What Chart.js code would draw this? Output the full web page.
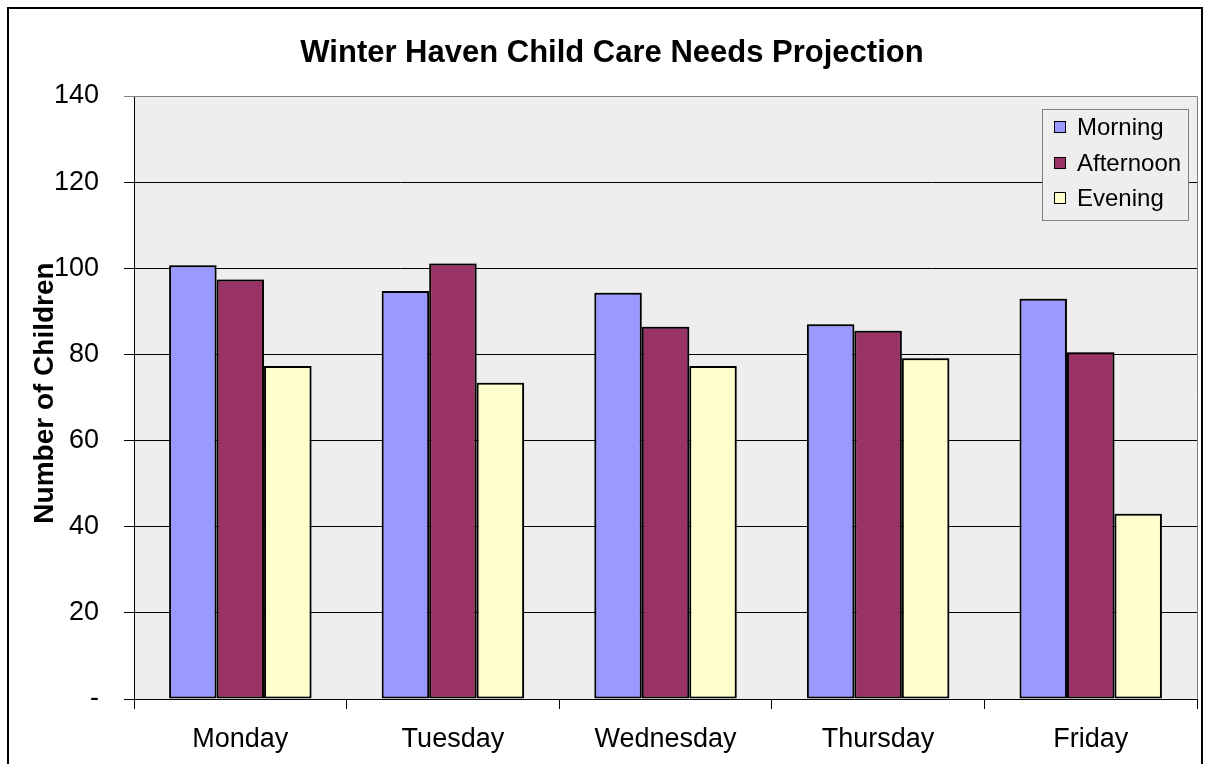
<!DOCTYPE html>
<html>
<head>
<meta charset="utf-8">
<script src="https://cdn.jsdelivr.net/npm/chart.js@4/dist/chart.umd.min.js"></script>
<style>
html,body{margin:0;padding:0;background:#fff;}
#wrap{width:1211px;height:764px;position:relative;}
</style>
</head>
<body>
<div id="wrap"><canvas id="c" width="1211" height="764"></canvas></div>
<script>
const chartTitle = 'Winter Haven Child Care Needs Projection';
const yAxisTitle = 'Number of Children';
const categories = ['Monday', 'Tuesday', 'Wednesday', 'Thursday', 'Friday'];
const seriesNames = ['Morning', 'Afternoon', 'Evening'];
const morning = [100.7, 94.7, 94.3, 87.0, 92.9];
const afternoon = [97.4, 101.1, 86.4, 85.5, 80.5];
const evening = [77.3, 73.4, 77.3, 79.1, 43.0];
const seriesColors = ['#9999FF', '#993366', '#FFFFCC'];
const yTicks = [0, 20, 40, 60, 80, 100, 120, 140];

const FONT = '"Liberation Sans", Arial, Helvetica, sans-serif';

const decor = {
  id: 'decor',
  beforeDraw(chart) {
    const {ctx, chartArea: a} = chart;
    ctx.save();
    ctx.fillStyle = '#fff';
    ctx.fillRect(0, 0, chart.width, chart.height);
    ctx.fillStyle = '#EEEEEE';
    ctx.fillRect(a.left, a.top, a.right - a.left, a.bottom - a.top);
    ctx.restore();
  },
  beforeDatasetsDraw(chart) {
    const {ctx} = chart;
    ctx.save();
    ctx.shadowColor = 'rgba(0,0,0,0.3)';
    ctx.shadowOffsetX = 1;
    ctx.shadowOffsetY = -1;
    ctx.shadowBlur = 0;
  },
  afterDatasetsDraw(chart) {
    const {ctx, chartArea: a} = chart;
    ctx.restore();
    ctx.save();
    ctx.strokeStyle = '#808080';
    ctx.lineWidth = 1;
    ctx.beginPath();
    ctx.moveTo(a.left, a.top + 0.5);
    ctx.lineTo(a.right + 0.5, a.top + 0.5);
    ctx.lineTo(a.right + 0.5, a.bottom);
    ctx.stroke();
    ctx.restore();
  },
  afterDraw(chart) {
    const {ctx} = chart;
    ctx.save();
    // outer frame
    ctx.strokeStyle = '#000';
    ctx.lineWidth = 2;
    ctx.strokeRect(8, 8, 1194, 800);
    // title
    ctx.fillStyle = '#000';
    ctx.font = 'bold 31px ' + FONT;
    ctx.textAlign = 'center';
    ctx.textBaseline = 'middle';
    ctx.fillText(chartTitle, 612, 53);
    // y axis title
    ctx.save();
    ctx.translate(45, 393);
    ctx.rotate(-Math.PI / 2);
    ctx.font = 'bold 28px ' + FONT;
    ctx.textAlign = 'center';
    ctx.textBaseline = 'middle';
    ctx.fillText(yAxisTitle, 0, 0);
    ctx.restore();
    // legend
    const lx = 1042, ly = 109, lw = 146, lh = 111;
    ctx.fillStyle = '#EEEEEE';
    ctx.fillRect(lx, ly, lw, lh);
    ctx.strokeStyle = '#808080';
    ctx.lineWidth = 1;
    ctx.strokeRect(lx + 0.5, ly + 0.5, lw, lh);
    const rows = [127, 163, 198];
    chart.data.datasets.forEach((ds, i) => {
      const cy = rows[i];
      ctx.fillStyle = ds.backgroundColor;
      ctx.fillRect(1054, cy - 6, 12, 12);
      ctx.strokeStyle = '#000';
      ctx.strokeRect(1054.5, cy - 5.5, 11, 11);
      ctx.fillStyle = '#000';
      ctx.font = '24px ' + FONT;
      ctx.textAlign = 'left';
      ctx.textBaseline = 'middle';
      ctx.fillText(ds.label, 1077, cy + 1);
    });
    ctx.restore();
  }
};

const seriesData = [morning, afternoon, evening];
new Chart(document.getElementById('c'), {
  type: 'bar',
  data: {
    labels: categories,
    datasets: seriesNames.map((n, i) => ({
      label: n,
      data: seriesData[i],
      backgroundColor: seriesColors[i],
      borderColor: '#000',
      borderWidth: 2,
      borderSkipped: false,
      categoryPercentage: 0.67,
      barPercentage: 1.0
    }))
  },
  options: {
    responsive: false,
    animation: false,
    devicePixelRatio: 1,
    layout: {padding: {top: 96, right: 14, bottom: 0, left: 0}},
    plugins: {legend: {display: false}, tooltip: {enabled: false}, title: {display: false}},
    scales: {
      x: {
        afterFit(s) { s.height = 65; },
        grid: {display: true, drawOnChartArea: false, drawTicks: true, tickLength: 10, color: '#000', offset: true},
        border: {display: true, color: '#000', width: 1},
        ticks: {color: '#000', font: {family: FONT, size: 27}, padding: 14, maxRotation: 0}
      },
      y: {
        min: 0, max: 140,
        afterFit(s) { s.width = 134; },
        afterBuildTicks(s) { s.ticks = yTicks.map(v => ({value: v})); },
        grid: {display: true, drawTicks: true, tickLength: 10,
               color: c => (c.tick && c.tick.value === 140) ? '#808080' : '#000', lineWidth: 1},
        border: {display: true, color: '#000', width: 1},
        ticks: {color: '#000', font: {family: FONT, size: 27}, padding: 25,
                callback: v => v === 0 ? '-' : String(v)},
        title: {display: false}
      }
    }
  },
  plugins: [decor]
});
</script>
</body>
</html>
